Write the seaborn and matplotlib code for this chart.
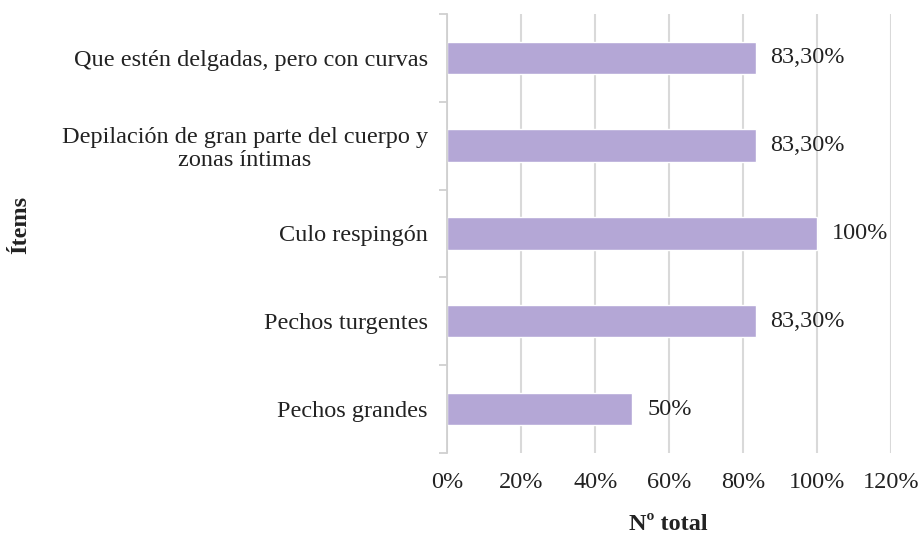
import numpy as np
import pandas as pd
import matplotlib
matplotlib.use("Agg")
import matplotlib.pyplot as plt
import seaborn as sns

items = ["Que estén delgadas, pero con curvas",
         "Depilación de gran parte del cuerpo y\nzonas íntimas",
         "Culo respingón",
         "Pechos turgentes",
         "Pechos grandes"]
values = [83.3, 83.3, 100, 83.3, 50]
value_labels = ["83,30%", "83,30%", "100%", "83,30%", "50%"]
x_ticks = [0, 20, 40, 60, 80, 100, 120]

sns.set_style("white")
plt.rcParams['font.family'] = ['Liberation Serif', 'DejaVu Serif']

df = pd.DataFrame({"item": items, "value": values})
fs = 17.5

fig = plt.figure(figsize=(9.2, 5.36), dpi=100)
ax = fig.add_axes([0.486, 0.155, 0.483, 0.819])
sns.barplot(data=df, y="item", x="value", orient="h", color="#b4a7d6",
            saturation=1, width=0.37, ax=ax)

ax.set_xlim(0, 120)
ax.set_ylim(4.5, -0.5)
ax.set_xticks(x_ticks)
ax.set_xticklabels([f"{t}%" for t in x_ticks], fontsize=fs, color="#222222")
ax.tick_params(axis="x", length=0, pad=14)
ax.tick_params(axis="y", which="major", length=0, pad=14, labelsize=fs,
               labelcolor="#222222")
ax.set_yticks(np.arange(-0.5, 5, 1), minor=True)
ax.tick_params(axis="y", which="minor", left=True, length=6,
               color="#d0d0d0", width=1.3)
for lbl in ax.get_yticklabels():
    lbl.set_multialignment("center")
    lbl.set_linespacing(1.1)

ax.grid(axis="x", color="#d9d9d9", linewidth=1.5)
ax.set_axisbelow(True)
for s in ["top", "right", "bottom"]:
    ax.spines[s].set_visible(False)
ax.spines["left"].set_color("#d0d0d0")
ax.spines["left"].set_linewidth(1.3)

for i, (v, t) in enumerate(zip(values, value_labels)):
    ax.text(v + 4, i, t, va="center", ha="left", fontsize=fs, color="#222222")

ax.set_xlabel("")
ax.set_ylabel("")
fig.text(0.726, 0.022, "Nº total", ha="center", va="center", fontsize=fs,
         fontweight="bold", color="#222222")
fig.text(0.022, 0.58, "Ítems", ha="center", va="center", rotation=90,
         fontsize=fs, fontweight="bold", color="#222222")

fig.savefig("out.png", dpi=100)
